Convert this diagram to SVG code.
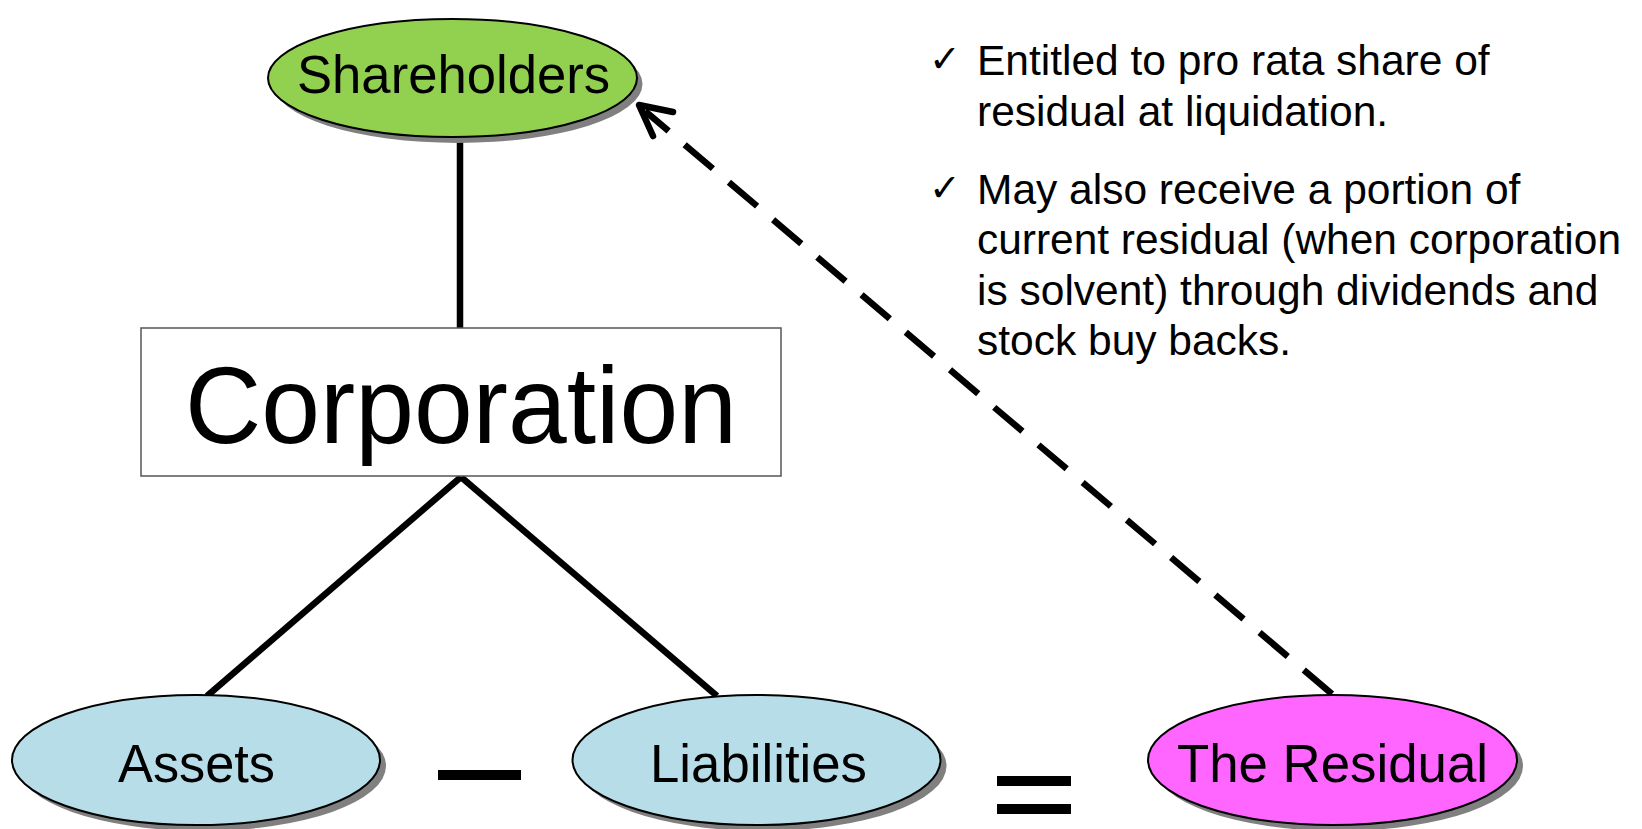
<svg xmlns="http://www.w3.org/2000/svg" width="1642" height="829" viewBox="0 0 1642 829">
  <defs>
    <style>
      .label { font-family: "Liberation Sans", Arial, sans-serif; fill: #000; }
      .node-text { font-size: 53px; text-anchor: start; }
      .bullet { font-size: 42.5px; }
      .check { font-family: "DejaVu Sans", sans-serif; font-size: 38px; fill: #000; }
      .shadow { fill: #808080; stroke: none; }
      .oval { stroke: #000; stroke-width: 2; }
      .link { stroke: #000; stroke-width: 6.5; fill: none; }
      .dash { stroke: #000; stroke-width: 6.5; fill: none; stroke-dasharray: 37 21; }
      .head { stroke: #000; stroke-width: 6.5; fill: none; stroke-linecap: round; stroke-linejoin: round; }
      .op { fill: #000; }
    </style>
  </defs>

  <rect width="1642" height="829" fill="#fff"/>

  <!-- connectors -->
  <g id="connectors">
    <line class="link" x1="460" y1="137" x2="460" y2="328"/>
    <line class="link" x1="461" y1="477" x2="207" y2="696"/>
    <line class="link" x1="461" y1="477" x2="717" y2="696"/>
    <line class="dash" x1="1332" y1="694" x2="645" y2="111"/>
    <polyline class="head" points="673,112 639,105 653,136"/>
  </g>

  <!-- Shareholders -->
  <g id="shareholders">
    <ellipse class="shadow" cx="458" cy="84" rx="184.5" ry="59"/>
    <ellipse class="oval" cx="452.5" cy="78" rx="184.5" ry="59" fill="#92D050"/>
    <text class="label node-text" x="297" y="93" font-size="52" textLength="313" lengthAdjust="spacingAndGlyphs">Shareholders</text>
  </g>

  <!-- Corporation -->
  <g id="corporation">
    <rect x="141" y="328" width="640" height="148" fill="#fff" stroke="#555" stroke-width="1.5"/>
    <text class="label" x="185" y="443" font-size="110" textLength="552" lengthAdjust="spacingAndGlyphs">Corporation</text>
  </g>

  <!-- Assets -->
  <g id="assets">
    <ellipse class="shadow" cx="202" cy="766" rx="184" ry="65"/>
    <ellipse class="oval" cx="196" cy="760" rx="184" ry="65" fill="#B7DEE8"/>
    <text class="label node-text" x="118" y="782" textLength="157" lengthAdjust="spacingAndGlyphs">Assets</text>
  </g>

  <!-- minus sign -->
  <g id="minus">
    <rect class="op" x="438" y="770" width="83" height="10"/>
  </g>

  <!-- Liabilities -->
  <g id="liabilities">
    <ellipse class="shadow" cx="762.5" cy="766" rx="184" ry="65"/>
    <ellipse class="oval" cx="756.5" cy="760" rx="184" ry="65" fill="#B7DEE8"/>
    <text class="label node-text" x="650" y="782" textLength="217" lengthAdjust="spacingAndGlyphs">Liabilities</text>
  </g>

  <!-- equals sign -->
  <g id="equals">
    <rect class="op" x="997" y="776" width="74" height="10"/>
    <rect class="op" x="997" y="804" width="74" height="10"/>
  </g>

  <!-- The Residual -->
  <g id="residual">
    <ellipse class="shadow" cx="1338.5" cy="766" rx="184.5" ry="65"/>
    <ellipse class="oval" cx="1332.5" cy="760" rx="184.5" ry="65" fill="#FF66FF"/>
    <text class="label node-text" x="1177" y="782" textLength="311" lengthAdjust="spacingAndGlyphs">The Residual</text>
  </g>

  <!-- notes on shareholder rights -->
  <g id="notes">
    <text class="check" x="929" y="72">✓</text>
    <text class="label bullet" x="977" y="75">Entitled to pro rata share of</text>
    <text class="label bullet" x="977" y="126">residual at liquidation.</text>
    <text class="check" x="929" y="201">✓</text>
    <text class="label bullet" x="977" y="204">May also receive a portion of</text>
    <text class="label bullet" x="977" y="254" textLength="644" lengthAdjust="spacingAndGlyphs">current residual (when corporation</text>
    <text class="label bullet" x="977" y="305">is solvent) through dividends and</text>
    <text class="label bullet" x="977" y="355">stock buy backs.</text>
  </g>
</svg>
